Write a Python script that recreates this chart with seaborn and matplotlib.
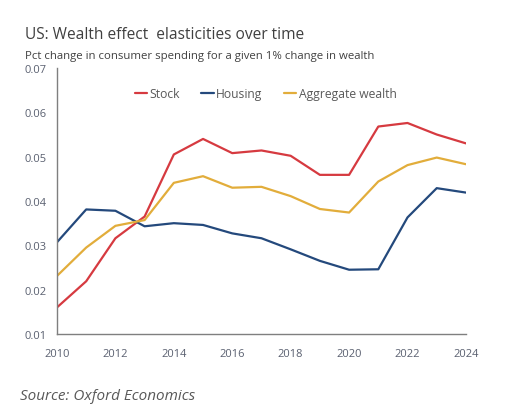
import pandas as pd
import matplotlib.pyplot as plt
import seaborn as sns

years = list(range(2010, 2025))
stock = [0.0160, 0.0219, 0.0316, 0.0365, 0.0505, 0.0540, 0.0508, 0.0514,
         0.0502, 0.0459, 0.0459, 0.0568, 0.0576, 0.0550, 0.0530]
housing = [0.0307, 0.0381, 0.0378, 0.0343, 0.0350, 0.0346, 0.0327, 0.0316,
           0.0291, 0.0265, 0.0245, 0.0246, 0.0363, 0.0429, 0.0419]
aggregate = [0.0231, 0.0295, 0.0344, 0.0357, 0.0441, 0.0456, 0.0430, 0.0432,
             0.0411, 0.0382, 0.0374, 0.0444, 0.0481, 0.0498, 0.0483]
series_names = ["Stock", "Housing", "Aggregate wealth"]
colors = ["#d63a40", "#24497c", "#e2ad3b"]

df = pd.DataFrame({"year": years, "Stock": stock, "Housing": housing,
                   "Aggregate wealth": aggregate})
long_df = df.melt(id_vars="year", var_name="series", value_name="value")

sns.set_style("white")
plt.rcParams['font.family'] = ['Open Sans', 'DejaVu Sans']
text_col = "#595959"

fig = plt.figure(figsize=(5.07, 4.14), dpi=100)
ax = fig.add_axes([0.1124, 0.1908, 0.8066, 0.6425])

sns.lineplot(data=long_df, x="year", y="value", hue="series",
             hue_order=series_names, palette=colors, linewidth=1.6, ax=ax)

ax.set_xlim(2010, 2024)
ax.set_ylim(0.01, 0.07)
ax.set_xticks(range(2010, 2025, 2))
ax.set_yticks([0.01, 0.02, 0.03, 0.04, 0.05, 0.06, 0.07])
ax.set_yticklabels(["0.01", "0.02", "0.03", "0.04", "0.05", "0.06", "0.07"])
ax.set_xlabel("")
ax.set_ylabel("")

for side in ["top", "right"]:
    ax.spines[side].set_visible(False)
for side in ["left", "bottom"]:
    ax.spines[side].set_color("#7f7f7f")
    ax.spines[side].set_linewidth(1.0)
ax.tick_params(axis="both", direction="out", length=4, width=1,
               color="#7f7f7f", labelcolor="#5a6070", labelsize=8)
ax.tick_params(axis="x", pad=6)

ax.legend(loc="upper center", bbox_to_anchor=(0.51, 0.97), ncol=3,
          frameon=False, fontsize=8.7, handlelength=1.0, handletextpad=0.2,
          columnspacing=1.8, labelcolor=text_col)

fig.text(0.049, 0.905, "US: Wealth effect  elasticities over time",
         fontsize=11.2, color="#404040")
fig.text(0.049, 0.858, "Pct change in consumer spending for a given 1% change in wealth",
         fontsize=8.2, color="#404040")
fig.text(0.039, 0.035, "Source: Oxford Economics", fontsize=11,
         style="italic", color="#595959")

fig.savefig("out.png", dpi=100)
